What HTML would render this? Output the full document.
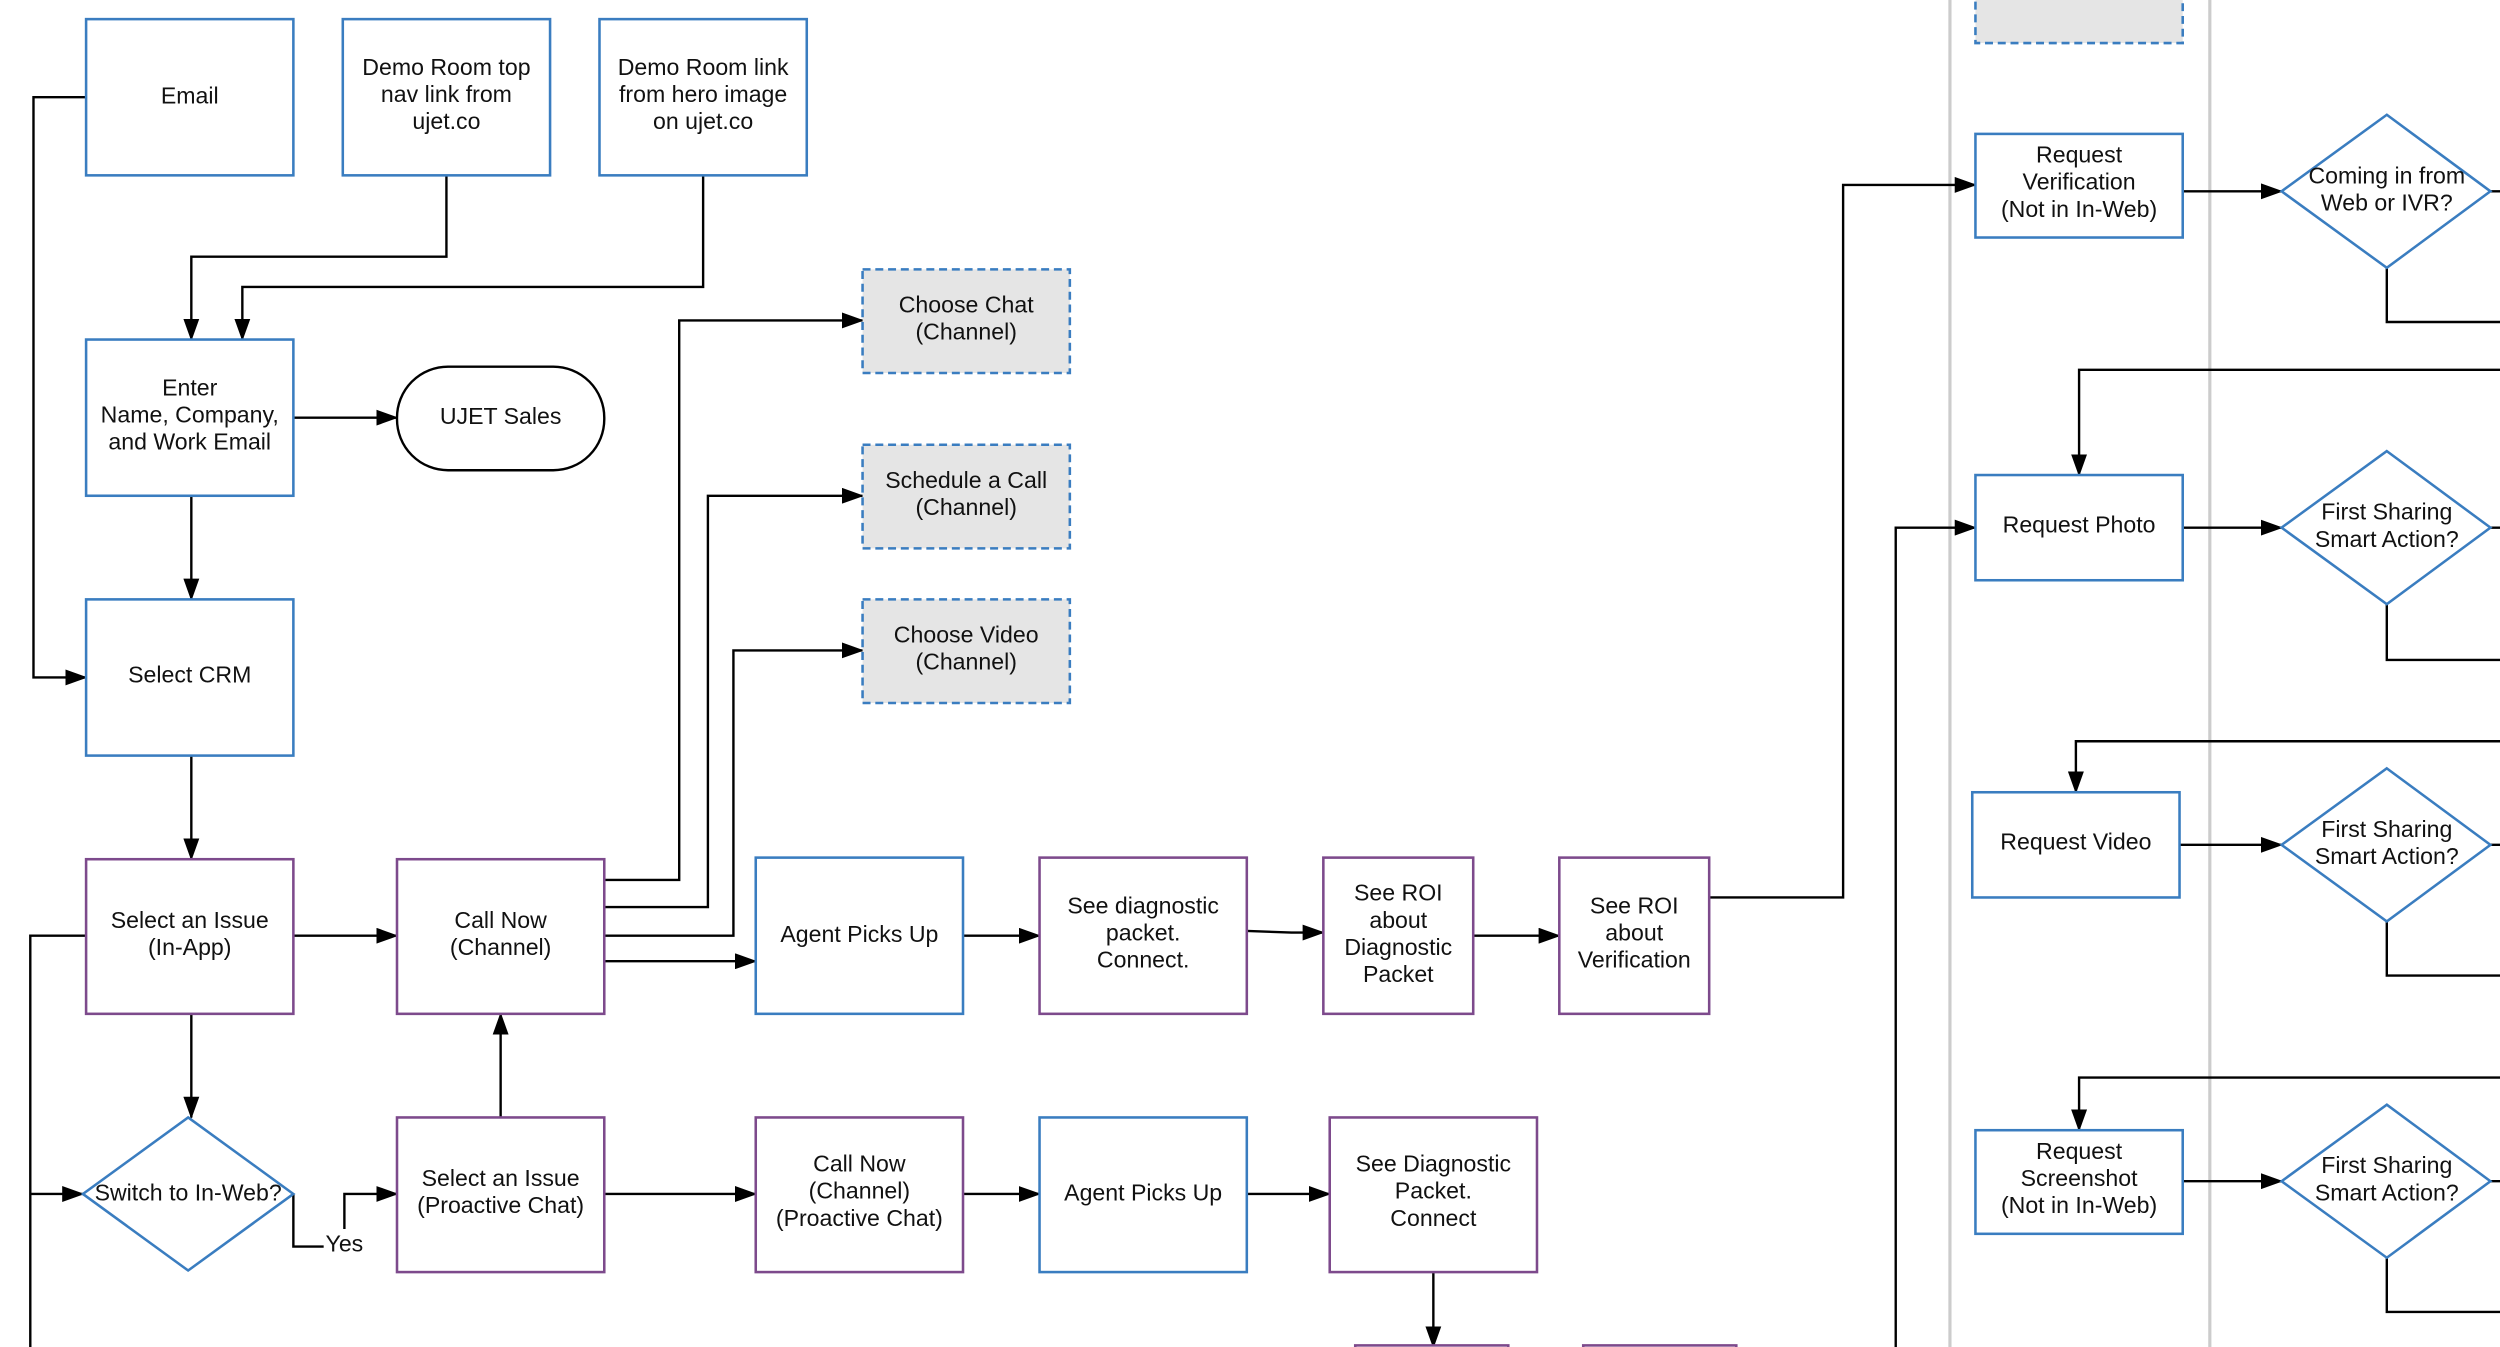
<!DOCTYPE html>
<html><head><meta charset="utf-8"><style>
html,body{margin:0;padding:0;background:#fff;width:2500px;height:1347px;overflow:hidden}
svg{display:block}
text{font-family:"Liberation Sans",Arial,sans-serif;font-size:14.5px;fill:#111;text-anchor:middle}
.b{fill:#fff;stroke:#3a7dc0;stroke-width:1.6}
.p{fill:#fff;stroke:#7d4a8c;stroke-width:1.6}
.d{fill:#e5e5e5;stroke:#3a7dc0;stroke-width:1.6;stroke-dasharray:5 3}
.l{fill:none;stroke:#000;stroke-width:1.5}
.a{fill:none;stroke:#000;stroke-width:1.5;marker-end:url(#ar)}
</style></head><body>
<svg width="2500" height="1347" viewBox="0 0 1568 845" preserveAspectRatio="none" xmlns="http://www.w3.org/2000/svg">
<defs><marker id="ar" markerUnits="userSpaceOnUse" markerWidth="14" markerHeight="10" refX="13" refY="5" orient="auto"><path d="M0,0 L14,5 L0,10 z" fill="#000"/></marker></defs>
<rect width="1568" height="845" fill="#fff"/>
<line x1="1223" y1="0" x2="1223" y2="845" stroke="#ccc" stroke-width="2"/>
<line x1="1386" y1="0" x2="1386" y2="845" stroke="#ccc" stroke-width="2"/>

<!-- connectors -->
<path class="a" d="M54,61 H21 V425 H54"/>
<path class="a" d="M280,110 V161 H120 V213"/>
<path class="a" d="M441,110 V180 H152 V213"/>
<path class="a" d="M184,262 H249"/>
<path class="a" d="M120,311 V376"/>
<path class="a" d="M120,474 V539"/>
<path class="a" d="M184,587 H249"/>
<path class="a" d="M120,636 V701"/>
<path class="l" d="M54,587 H19 V845"/>
<path class="a" d="M19,749 H52"/>
<path class="l" d="M184,749 V782 H203"/>
<path class="a" d="M216,771 V749 H249"/>
<path class="a" d="M314,701 V636"/>
<path class="a" d="M379,552 H426 V201 H541"/>
<path class="a" d="M379,569 H444 V311 H541"/>
<path class="a" d="M379,587 H460 V408 H541"/>
<path class="a" d="M379,603 H474"/>
<path class="a" d="M604,587 H652"/>
<path class="a" d="M782,584 L810,585 H830"/>
<path class="a" d="M924,587 H978"/>
<path class="a" d="M1072,563 H1156 V116 H1239"/>
<path class="a" d="M379,749 H474"/>
<path class="a" d="M604,749 H652"/>
<path class="a" d="M782,749 H834"/>
<path class="a" d="M899,798 V845"/>
<path class="a" d="M1189,845 V331 H1239"/>
<path class="a" d="M1369,120 H1431"/>
<path class="a" d="M1369,331 H1431"/>
<path class="a" d="M1367,530 H1431"/>
<path class="a" d="M1369,741 H1431"/>
<path class="l" d="M1562,120 H1568 M1562,331 H1568 M1562,530 H1568 M1562,741 H1568"/>
<path class="l" d="M1497,168 V202 H1568 M1497,379 V414 H1568 M1497,578 V612 H1568 M1497,789 V823 H1568"/>
<path class="a" d="M1568,232 H1304 V298"/>
<path class="a" d="M1568,465 H1302 V497"/>
<path class="a" d="M1568,676 H1304 V709"/>

<!-- nodes -->
<rect class="b" x="54" y="12" width="130" height="98"/><text x="119" y="65">Email</text>
<rect class="b" x="215" y="12" width="130" height="98"/><text x="280" y="47">Demo Room top</text><text x="280" y="64">nav link from</text><text x="280" y="81">ujet.co</text>
<rect class="b" x="376" y="12" width="130" height="98"/><text x="441" y="47">Demo Room link</text><text x="441" y="64">from hero image</text><text x="441" y="81">on ujet.co</text>
<rect class="b" x="54" y="213" width="130" height="98"/><text x="119" y="248">Enter</text><text x="119" y="265">Name, Company,</text><text x="119" y="282">and Work Email</text>
<rect x="249" y="230" width="130" height="65" rx="32" fill="#fff" stroke="#000" stroke-width="1.5"/><text x="314" y="266">UJET Sales</text>
<rect class="b" x="54" y="376" width="130" height="98"/><text x="119" y="428">Select CRM</text>
<rect class="p" x="54" y="539" width="130" height="97"/><text x="119" y="582">Select an Issue</text><text x="119" y="599">(In-App)</text>
<rect class="p" x="249" y="539" width="130" height="97"/><text x="314" y="582">Call Now</text><text x="314" y="599">(Channel)</text>
<rect class="b" x="474" y="538" width="130" height="98"/><text x="539" y="591">Agent Picks Up</text>
<rect class="p" x="652" y="538" width="130" height="98"/><text x="717" y="573">See diagnostic</text><text x="717" y="590">packet.</text><text x="717" y="607">Connect.</text>
<rect class="p" x="830" y="538" width="94" height="98"/><text x="877" y="565">See ROI</text><text x="877" y="582">about</text><text x="877" y="599">Diagnostic</text><text x="877" y="616">Packet</text>
<rect class="p" x="978" y="538" width="94" height="98"/><text x="1025" y="573">See ROI</text><text x="1025" y="590">about</text><text x="1025" y="607">Verification</text>
<rect class="d" x="541" y="169" width="130" height="65"/><text x="606" y="196">Choose Chat</text><text x="606" y="213">(Channel)</text>
<rect class="d" x="541" y="279" width="130" height="65"/><text x="606" y="306">Schedule a Call</text><text x="606" y="323">(Channel)</text>
<rect class="d" x="541" y="376" width="130" height="65"/><text x="606" y="403">Choose Video</text><text x="606" y="420">(Channel)</text>
<rect class="d" x="1239" y="-12" width="130" height="39"/>
<polygon class="b" points="118,701 184,749 118,797 52,749"/><text x="118" y="753">Switch to In-Web?</text>
<text x="216" y="785">Yes</text>
<rect class="p" x="249" y="701" width="130" height="97"/><text x="314" y="744">Select an Issue</text><text x="314" y="761">(Proactive Chat)</text>
<rect class="p" x="474" y="701" width="130" height="97"/><text x="539" y="735">Call Now</text><text x="539" y="752">(Channel)</text><text x="539" y="769">(Proactive Chat)</text>
<rect class="b" x="652" y="701" width="130" height="97"/><text x="717" y="753">Agent Picks Up</text>
<rect class="p" x="834" y="701" width="130" height="97"/><text x="899" y="735">See Diagnostic</text><text x="899" y="752">Packet.</text><text x="899" y="769">Connect</text>
<rect class="p" x="850" y="844" width="96" height="10"/>
<rect class="p" x="993" y="844" width="96" height="10"/>
<rect class="b" x="1239" y="84" width="130" height="65"/><text x="1304" y="102">Request</text><text x="1304" y="119">Verification</text><text x="1304" y="136">(Not in In-Web)</text>
<polygon class="b" points="1497,72 1562,120 1497,168 1431,120"/><text x="1497" y="115">Coming in from</text><text x="1497" y="132">Web or IVR?</text>
<rect class="b" x="1239" y="298" width="130" height="66"/><text x="1304" y="334">Request Photo</text>
<polygon class="b" points="1497,283 1562,331 1497,379 1431,331"/><text x="1497" y="326">First Sharing</text><text x="1497" y="343">Smart Action?</text>
<rect class="b" x="1237" y="497" width="130" height="66"/><text x="1302" y="533">Request Video</text>
<polygon class="b" points="1497,482 1562,530 1497,578 1431,530"/><text x="1497" y="525">First Sharing</text><text x="1497" y="542">Smart Action?</text>
<rect class="b" x="1239" y="709" width="130" height="65"/><text x="1304" y="727">Request</text><text x="1304" y="744">Screenshot</text><text x="1304" y="761">(Not in In-Web)</text>
<polygon class="b" points="1497,693 1562,741 1497,789 1431,741"/><text x="1497" y="736">First Sharing</text><text x="1497" y="753">Smart Action?</text>
</svg>
</body></html>
